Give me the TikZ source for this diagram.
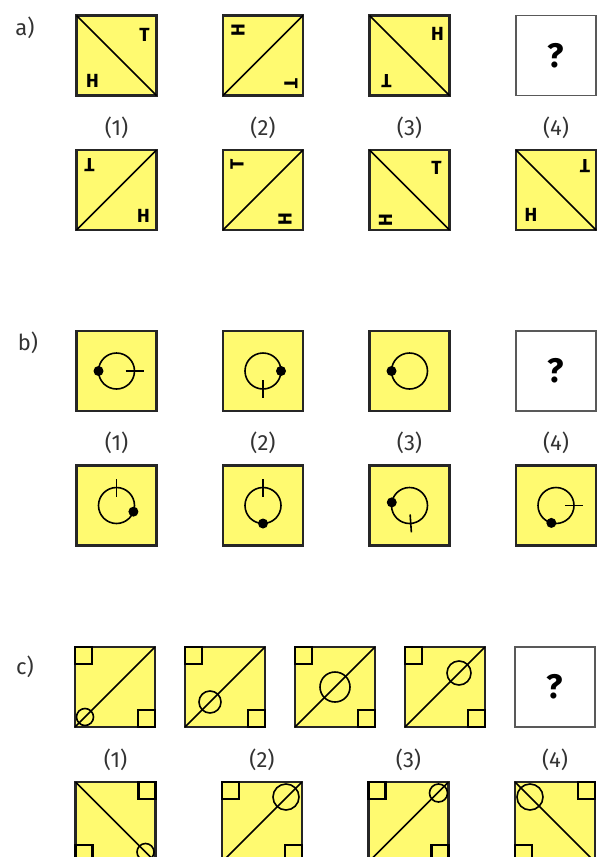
\documentclass[tikz,border=0pt]{standalone}
\usepackage{fontspec}
\setmainfont{Fira Sans}
\usetikzlibrary{calc}
\definecolor{cardyellow}{RGB}{255,250,112}
\tikzstyle{card}=[draw=black!85,line width=2.2pt,fill=cardyellow,minimum size=80pt,inner sep=0pt,outer sep=0pt]
\tikzstyle{blank}=[draw=black!65,line width=1.6pt,fill=white,minimum size=80pt,inner sep=0pt,outer sep=0pt,font=\fontsize{34}{34}\selectfont\bfseries]
\tikzstyle{num}=[font=\fontsize{22}{22}\selectfont,text=black!80]
\tikzstyle{part}=[font=\fontsize{22}{22}\selectfont,text=black!80]
\tikzstyle{glyph}=[font=\fontsize{19}{19}\selectfont\bfseries,inner sep=0pt]
\tikzstyle{diag}=[line width=1.7pt]
\tikzstyle{ring}=[line width=1.6pt]
\tikzstyle{corner}=[line width=2.2pt]
% ring with a dot (b)
\newcommand{\ringdot}[2]{\draw[ring] (#1) circle (18pt); \fill ($(#1)+(#2:18pt)$) circle (5pt);}
\newcommand{\ringtick}[2]{\draw[ring] ($(#1)+(#2:9pt)$) -- ($(#1)+(#2:27pt)$);}

\begin{document}
\begin{tikzpicture}[x=1pt,y=-1pt]
  \useasboundingbox (0,0) rectangle (603,857);
  \clip (0,0) rectangle (603,857);

  % a) letters
  \node [part] (pa) at (25,28) {a)};
  \node [card] (a1) at (116.5,55.5) {};
  \node [card, right of=a1, node distance=146.5pt] (a2) {};
  \node [card, right of=a2, node distance=146.5pt] (a3) {};
  \node [blank, right of=a3, node distance=146.5pt] (a4) {?};
  \node [num] (na1) at (116.5,128) {(1)};
  \node [num, right of=na1, node distance=146.5pt] (na2) {(2)};
  \node [num, right of=na2, node distance=146.5pt] (na3) {(3)};
  \node [num, right of=na3, node distance=146.5pt] (na4) {(4)};
  \node [card] (ao1) at (116.5,190) {};
  \node [card, right of=ao1, node distance=146.5pt] (ao2) {};
  \node [card, right of=ao2, node distance=146.5pt] (ao3) {};
  \node [card, right of=ao3, node distance=146.5pt] (ao4) {};

  \draw [diag] (a1.north west) -- (a1.south east);
  \draw [diag] (a2.south west) -- (a2.north east);
  \draw [diag] (a3.north west) -- (a3.south east);
  \draw [diag] (ao1.south west) -- (ao1.north east);
  \draw [diag] (ao2.south west) -- (ao2.north east);
  \draw [diag] (ao3.north west) -- (ao3.south east);
  \draw [diag] (ao4.north west) -- (ao4.south east);

  \node [glyph] (a1t) at ($(a1.north east)+(-12,19)$) {T};
  \node [glyph] (a1h) at ($(a1.south west)+(16,-15)$) {H};
  \node [glyph, rotate=90] (a2h) at ($(a2.north west)+(15,15)$) {H};
  \node [glyph, rotate=-90] (a2t) at ($(a2.south east)+(-12,-12)$) {T};
  \node [glyph] (a3h) at ($(a3.north east)+(-12,18)$) {H};
  \node [glyph, rotate=180] (a3t) at ($(a3.south west)+(17,-14)$) {T};
  \node [glyph, rotate=180] (ao1t) at ($(ao1.north west)+(13,15)$) {T};
  \node [glyph] (ao1h) at ($(ao1.south east)+(-13,-14)$) {H};
  \node [glyph, rotate=90] (ao2t) at ($(ao2.north west)+(14,14)$) {T};
  \node [glyph, rotate=90] (ao2h) at ($(ao2.south east)+(-18,-11)$) {H};
  \node [glyph] (ao3t) at ($(ao3.north east)+(-13,18)$) {T};
  \node [glyph, rotate=90] (ao3h) at ($(ao3.south west)+(16,-10)$) {H};
  \node [glyph, rotate=180] (ao4t) at ($(ao4.north east)+(-11,16)$) {T};
  \node [glyph] (ao4h) at ($(ao4.south west)+(15,-15)$) {H};

  % b) rings
  \node [part] (pb) at (28,343) {b)};
  \node [card] (b1) at (116.5,371) {};
  \node [card, right of=b1, node distance=146.5pt] (b2) {};
  \node [card, right of=b2, node distance=146.5pt] (b3) {};
  \node [blank, right of=b3, node distance=146.5pt] (b4) {?};
  \node [num] (nb1) at (116.5,443) {(1)};
  \node [num, right of=nb1, node distance=146.5pt] (nb2) {(2)};
  \node [num, right of=nb2, node distance=146.5pt] (nb3) {(3)};
  \node [num, right of=nb3, node distance=146.5pt] (nb4) {(4)};
  \node [card] (bo1) at (116.5,505.5) {};
  \node [card, right of=bo1, node distance=146.5pt] (bo2) {};
  \node [card, right of=bo2, node distance=146.5pt] (bo3) {};
  \node [card, right of=bo3, node distance=146.5pt] (bo4) {};

  \ringdot{b1}{180} \ringtick{b1}{0}
  \ringdot{b2}{0} \ringtick{b2}{270}
  \ringdot{b3}{180}
  \ringdot{bo1}{340} \ringtick{bo1}{90}
  \ringdot{bo2}{270} \ringtick{bo2}{90}
  \ringdot{bo3}{170} \ringtick{bo3}{274}
  \ringdot{bo4}{255} \ringtick{bo4}{0}

  % c) squares and circle
  \node [part] (pc) at (25,667) {c)};
  \node [card] (c1) at (115,687) {};
  \node [card, right of=c1, node distance=110pt] (c2) {};
  \node [card, right of=c2, node distance=110pt] (c3) {};
  \node [card, right of=c3, node distance=110pt] (c4) {};
  \node [blank, right of=c4, node distance=110pt] (c5) {?};
  \node [num] (nc1) at (115.5,760) {(1)};
  \node [num, right of=nc1, node distance=146.5pt] (nc2) {(2)};
  \node [num, right of=nc2, node distance=146.5pt] (nc3) {(3)};
  \node [num, right of=nc3, node distance=146.5pt] (nc4) {(4)};
  \node [card] (co1) at (115.5,822) {};
  \node [card, right of=co1, node distance=146.5pt] (co2) {};
  \node [card, right of=co2, node distance=146.5pt] (co3) {};
  \node [card, right of=co3, node distance=146.5pt] (co4) {};

  \draw [diag] (c1.south west) -- (c1.north east);
  \draw [diag] (c2.south west) -- (c2.north east);
  \draw [diag] (c3.south west) -- (c3.north east);
  \draw [diag] (c4.south west) -- (c4.north east);
  \draw [diag] (co1.north west) -- (co1.south east);
  \draw [diag] (co2.south west) -- (co2.north east);
  \draw [diag] (co3.south west) -- (co3.north east);
  \draw [diag] (co4.north west) -- (co4.south east);

  \draw [corner] (c1.north west) rectangle ++(17,17);
  \draw [corner] (c1.south east) rectangle ++(-17,-17);
  \draw [corner] (c2.north west) rectangle ++(17,17);
  \draw [corner] (c2.south east) rectangle ++(-17,-17);
  \draw [corner] (c3.north west) rectangle ++(17,17);
  \draw [corner] (c3.south east) rectangle ++(-17,-17);
  \draw [corner] (c4.north west) rectangle ++(17,17);
  \draw [corner] (c4.south east) rectangle ++(-17,-17);
  \draw [corner] (co1.north east) rectangle ++(-17,17);
  \draw [corner] (co1.south west) rectangle ++(17,-17);
  \draw [corner] (co2.north west) rectangle ++(17,17);
  \draw [corner] (co2.south east) rectangle ++(-17,-17);
  \draw [corner] (co3.north west) rectangle ++(17,17);
  \draw [corner] (co3.south east) rectangle ++(-17,-17);
  \draw [corner] (co4.north east) rectangle ++(-17,17);
  \draw [corner] (co4.south west) rectangle ++(17,-17);

  \draw [ring] ($(c1.south west)+(10,-10)$) circle (8.5pt);
  \draw [ring] ($(c2.south west)+(25,-25)$) circle (11pt);
  \draw [ring] (c3.center) circle (15pt);
  \draw [ring] ($(c4.south west)+(54,-54)$) circle (12pt);
  \draw [ring] ($(co1.south east)+(-10,-10)$) circle (8.5pt);
  \draw [ring] ($(co2.north east)+(-16,15)$) circle (13pt);
  \draw [ring] ($(co3.north east)+(-10,11)$) circle (9pt);
  \draw [ring] ($(co4.north west)+(15,15)$) circle (13pt);
\end{tikzpicture}
\end{document}
